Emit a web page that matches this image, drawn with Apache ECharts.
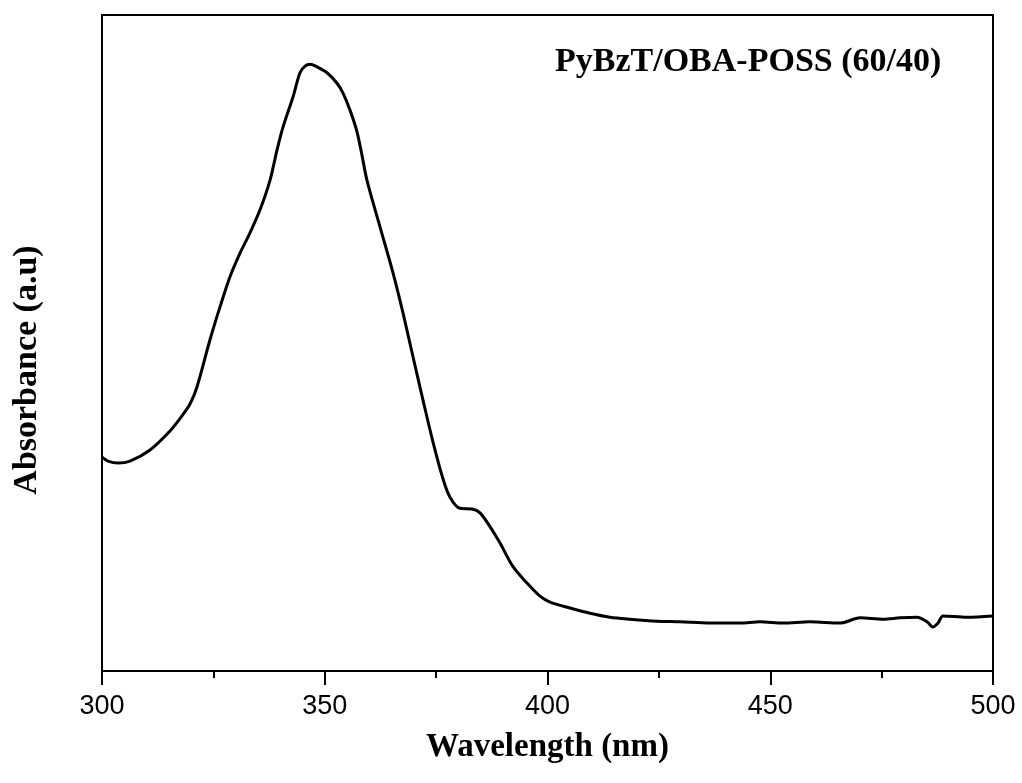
<!DOCTYPE html>
<html>
<head>
<meta charset="utf-8">
<script src="https://cdn.jsdelivr.net/npm/echarts@6/dist/echarts.min.js"></script>
<style>html,body{margin:0;padding:0;background:#fff}#c{width:1022px;height:783px}</style>
</head>
<body>
<div id="c"></div>
<script>
// Wavelength (nm)
const wavelength = [300.0,301.35,303.59,306.29,310.77,315.26,317.96,319.75,321.32,324.24,326.49,328.73,330.98,333.22,335.47,337.71,339.28,340.63,342.87,344.44,345.57,346.69,348.26,350.51,352.75,354.10,355.67,357.24,358.36,359.48,362.40,365.32,367.56,369.81,372.05,374.30,376.54,378.11,380.36,383.05,384.85,387.09,389.34,392.26,395.40,398.32,400.56,405.05,409.54,414.03,418.52,424.58,429.74,436.48,443.21,447.70,452.86,458.92,465.66,470.15,475.31,479.12,482.94,485.19,486.53,487.66,488.78,494.16,500.0];
// Absorbance (a.u.)
const absorbance = [0.326,0.320,0.317,0.320,0.337,0.366,0.389,0.407,0.433,0.505,0.555,0.601,0.637,0.668,0.703,0.748,0.794,0.829,0.875,0.912,0.922,0.925,0.921,0.912,0.896,0.881,0.855,0.822,0.786,0.748,0.677,0.607,0.546,0.479,0.413,0.349,0.293,0.265,0.248,0.247,0.241,0.220,0.195,0.159,0.134,0.114,0.105,0.096,0.088,0.082,0.079,0.076,0.075,0.073,0.073,0.075,0.073,0.075,0.073,0.081,0.079,0.081,0.082,0.075,0.067,0.073,0.084,0.082,0.084];
const xTicks = [300, 350, 400, 450, 500];
const chartTitle = 'PyBzT/OBA-POSS (60/40)';
const xName = 'Wavelength (nm)';
const yName = 'Absorbance (a.u)';

const data = wavelength.map((w, i) => [w, absorbance[i]]);
const chart = echarts.init(document.getElementById('c'));
chart.setOption({
  animation: false,
  backgroundColor: '#fff',
  title: {
    text: chartTitle,
    left: 550, top: 40,
    textStyle: {fontFamily: 'Liberation Serif', fontWeight: 'bold', fontSize: 34, color: '#000'}
  },
  graphic: [{
    type: 'text', x: 27, y: 370, rotation: Math.PI / 2,
    style: {text: yName, fill: '#000', font: 'bold 34px "Liberation Serif"', textAlign: 'center', textVerticalAlign: 'middle'}
  }],
  grid: {left: 102, right: 29, top: 15, bottom: 112, containLabel: false, outerBoundsMode: 'none',
         show: true, borderColor: '#000', borderWidth: 2, backgroundColor: 'transparent'},
  xAxis: {
    type: 'value', min: xTicks[0], max: xTicks[xTicks.length - 1], interval: 50,
    name: xName, nameLocation: 'middle', nameGap: 60,
    nameTextStyle: {fontFamily: 'Liberation Serif', fontWeight: 'bold', fontSize: 33, color: '#000'},
    axisLine: {show: true, lineStyle: {color: '#000', width: 2}},
    axisTick: {show: true, inside: false, length: 14, lineStyle: {color: '#000', width: 2}},
    minorTick: {show: true, splitNumber: 2, length: 7, lineStyle: {color: '#000', width: 2}},
    axisLabel: {fontFamily: 'Liberation Sans', fontSize: 27, color: '#000', margin: 22},
    splitLine: {show: false}
  },
  yAxis: {
    type: 'value', min: 0, max: 1,
    axisLine: {show: true, lineStyle: {color: '#000', width: 2}},
    axisTick: {show: false},
    axisLabel: {show: false},
    splitLine: {show: false}
  },
  series: [{
    type: 'line', data: data, showSymbol: false, smooth: 0.3,
    lineStyle: {color: '#000', width: 3}
  }]
});
</script>
</body>
</html>
